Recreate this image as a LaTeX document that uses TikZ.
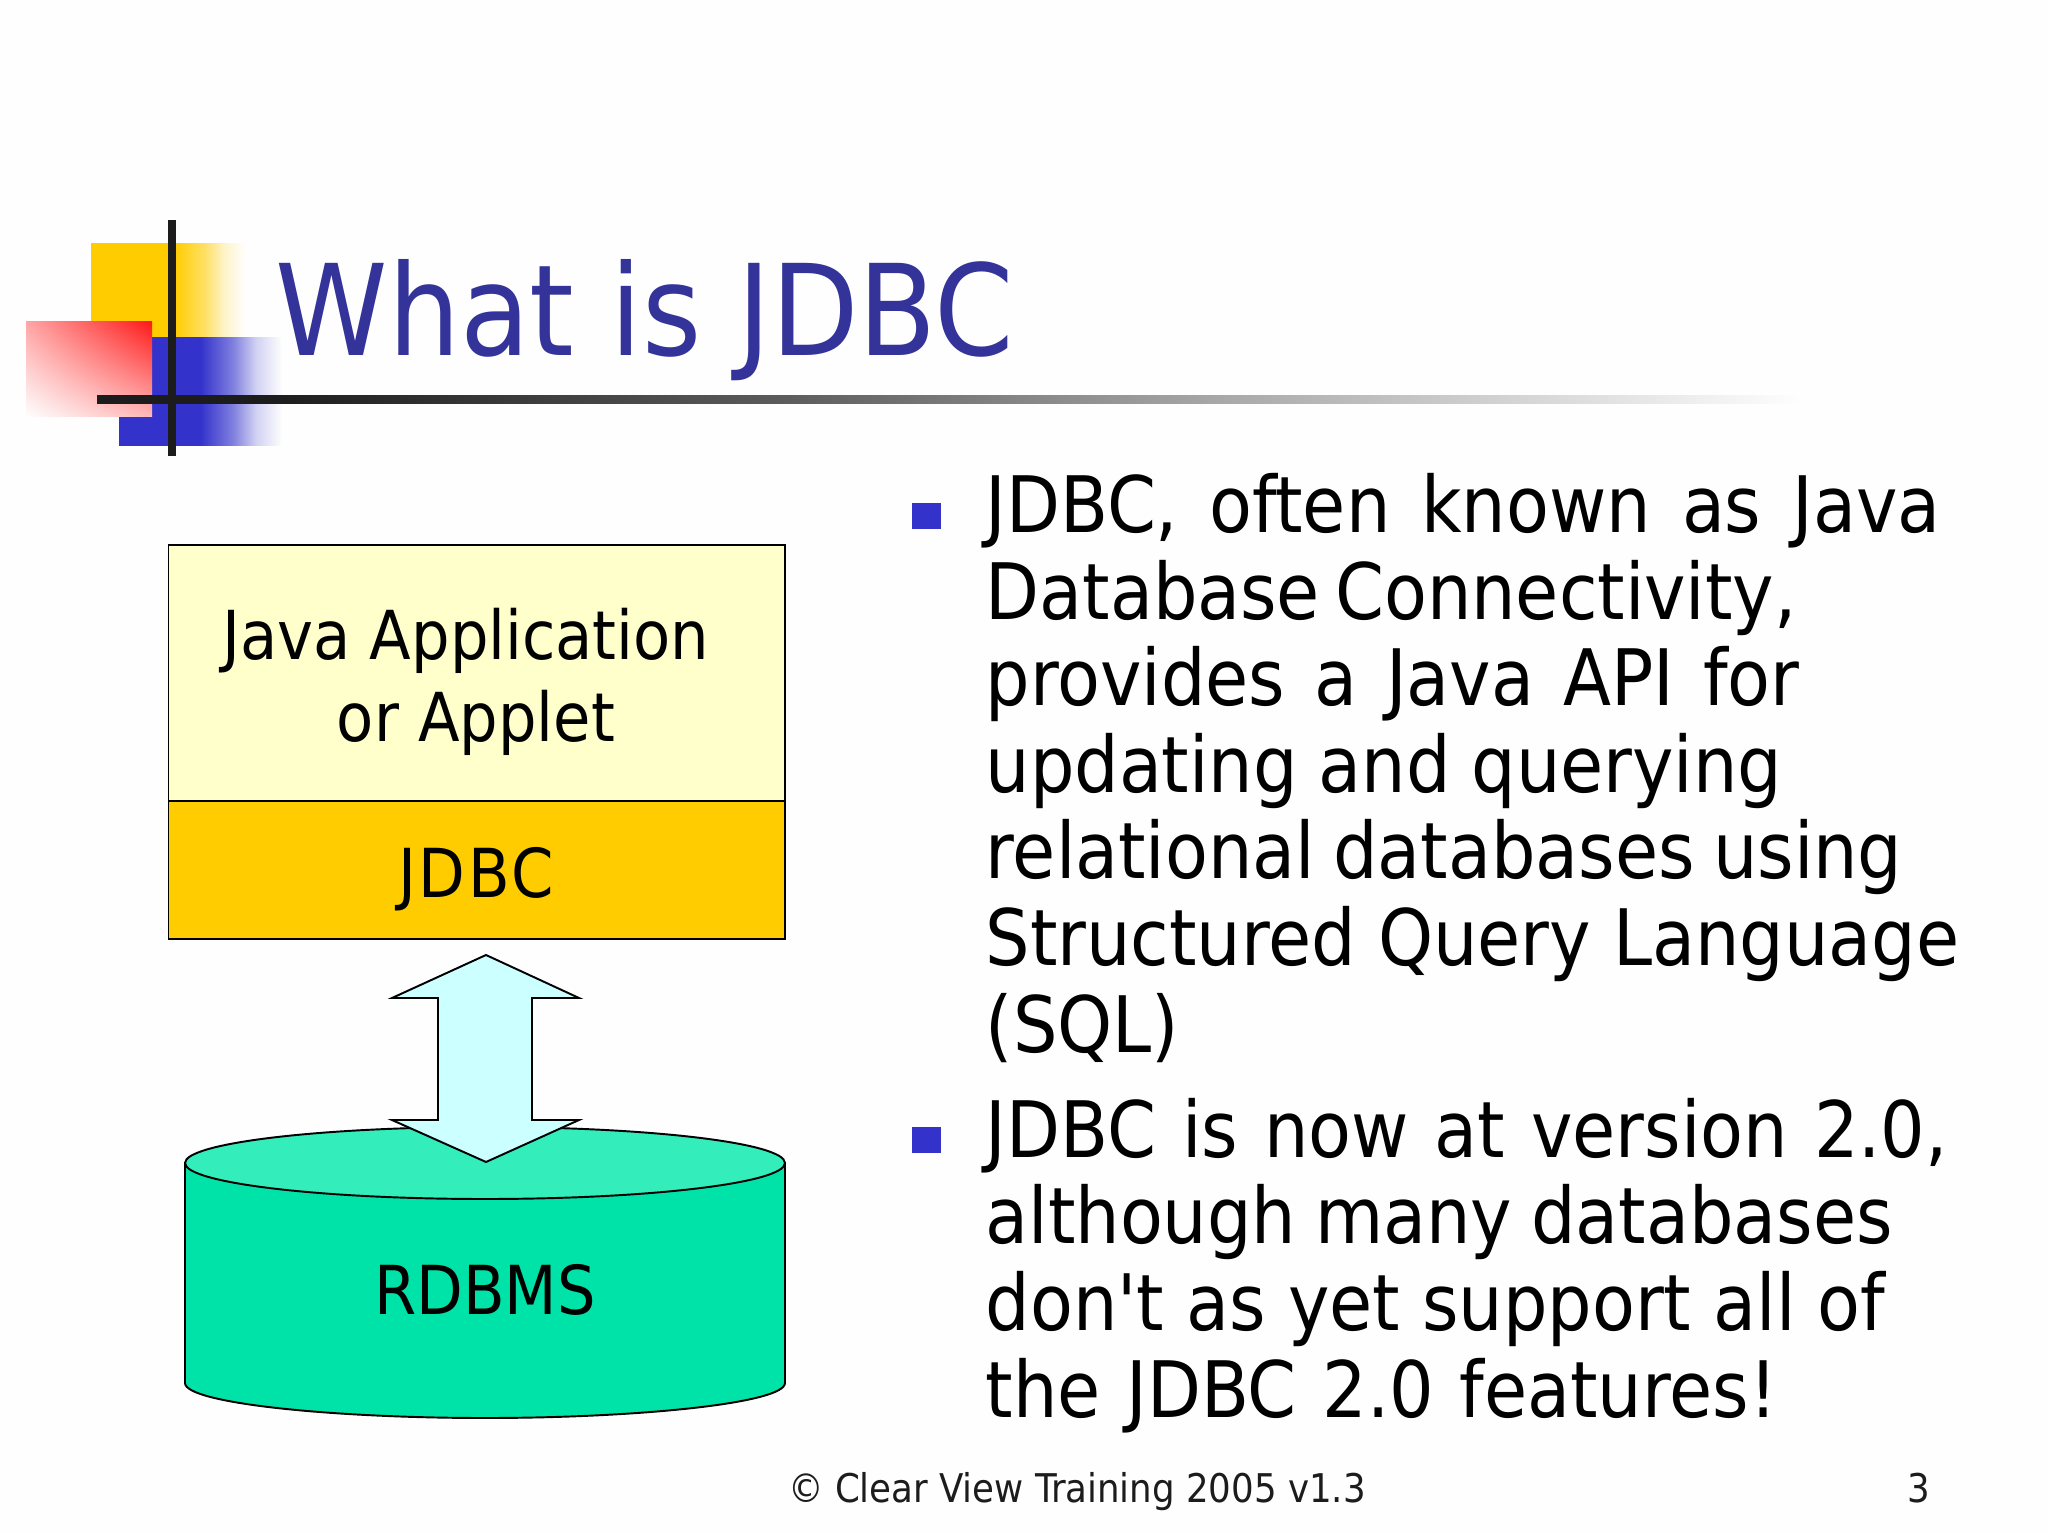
\documentclass[tikz,border=0pt]{standalone}
\usepackage{fontspec}
\defaultfontfeatures[\rmfamily]{}
\setmainfont{DejaVu Sans Condensed}
\usetikzlibrary{shadings}
\definecolor{ttl}{HTML}{333399}
\definecolor{blu}{HTML}{3333CC}
\definecolor{yel}{HTML}{FFCC00}
\definecolor{pale}{HTML}{FFFFCC}
\definecolor{cyl}{HTML}{00E3A8}
\definecolor{cyltop}{HTML}{33EEBB}
\definecolor{arr}{HTML}{CCFFFF}
\definecolor{ink}{HTML}{1C1C1C}
\definecolor{pagebg}{HTML}{FEFEFE}
\pgfdeclarehorizontalshading{yelfade}{100bp}{color(0bp)=(yel); color(52bp)=(yel); color(62bp)=(yel!60!pagebg); color(68bp)=(yel!22!pagebg); color(75bp)=(pagebg); color(100bp)=(pagebg)}
\pgfdeclarehorizontalshading{blufade}{100bp}{color(0bp)=(blu); color(50bp)=(blu); color(60bp)=(blu!62!pagebg); color(67bp)=(blu!22!pagebg); color(75bp)=(pagebg); color(100bp)=(pagebg)}
\pgfdeclarehorizontalshading{rulefade}{100bp}{color(0bp)=(ink); color(30bp)=(ink); color(45bp)=(ink!72!pagebg); color(58bp)=(ink!38!pagebg); color(75bp)=(pagebg); color(100bp)=(pagebg)}
\newcommand{\ws}[2]{{\spaceskip=\dimexpr\fontdimen2\font+#1pt\relax #2}}
\tikzset{
  bodytext/.style={anchor=base west,align=left,inner sep=0pt,font=\fontsize{22.15}{24.6}\selectfont},
  boxtext/.style={anchor=base,inner sep=0pt,align=center,font=\fontsize{19.2}{17.6}\selectfont},
  footertext/.style={anchor=base,inner sep=0pt,font=\fontsize{11.25}{13}\selectfont,text=ink},
  bulletmark/.style={fill=blu,draw=none},
  outl/.style={draw=black,line width=0.55pt},
}
\begin{document}
\begin{tikzpicture}[x=0.01cm,y=-0.01cm]
\useasboundingbox (0,0) rectangle (2048,1534);
\fill[pagebg] (0,0) rectangle (2048,1534);
% logo
\path[shading=yelfade] (91,244) rectangle (245,338);
\path[shading=blufade] (119,338) rectangle (282,446);
\shade[lower left=pagebg,upper right=red!90!white,upper left=red!35!white,lower right=red!28!white] (26,322) rectangle (152,417);
\path[shading=rulefade] (97,396) rectangle (1800,404);
\fill[ink] (168,220) rectangle (176,456);
\node[anchor=base west,inner sep=0pt,text=ttl,font=\fontsize{35.95}{40}\selectfont] (title) at (275,356) {What is JDBC};
% boxes
\node[outl,fill=pale,minimum width=6.16cm,minimum height=2.56cm,inner sep=0pt,anchor=north west] (app) at (167.5,544.5) {};
\node[outl,fill=yel,minimum width=6.16cm,minimum height=1.37cm,inner sep=0pt,anchor=north west] (jdbc) at (167.5,800.5) {};
\node[boxtext] (applabel) at (466,660) {Java Application};
\node[boxtext] (applabel2) at (476,742) {or Applet};
\node[boxtext] (jdbclabel) at (476,897) {\addfontfeature{LetterSpace=4}JDBC};
% cylinder
\draw[outl,fill=cyl] (185,1163) -- (185,1383) .. controls (185,1403) and (330,1418) .. (485,1418) .. controls (640,1418) and (785,1403) .. (785,1383) -- (785,1163) -- cycle;
\draw[outl,fill=cyltop] (485,1163) ellipse [x radius=300,y radius=36];
\node[boxtext] (rdbms) at (485,1314) {RDBMS};
% arrow
\draw[outl,fill=arr,line join=miter] (486,955) -- (579,998) -- (532,998) -- (532,1120) -- (579,1120) -- (486,1162) -- (392,1120) -- (438,1120) -- (438,998) -- (392,998) -- cycle;
% bullets
\fill[bulletmark] (912,503) rectangle (941,529);
\fill[bulletmark] (912,1127) rectangle (941,1153);
\node[bodytext] (p1) at (985,1052) {\ws{2.5}{JDBC, often known as Java}\\\ws{-2}{Database Connectivity,}\\\ws{1.95}{provides a Java API for}\\\ws{-0.35}{updating and querying}\\\ws{-1.1}{relational databases using}\\Structured Query Language\\(SQL)};
\node[bodytext] (p2) at (985,1417) {\ws{1.1}{JDBC is now at version 2.0,}\\\ws{-0.9}{although many databases}\\don't as yet support all of\\\ws{1}{the JDBC 2.0 features!}};
% footer
\node[footertext] (foot) at (1077,1502) {© Clear View Training 2005 v1.3};
\node[footertext] (page) at (1919,1502) {3};
\end{tikzpicture}
\end{document}
